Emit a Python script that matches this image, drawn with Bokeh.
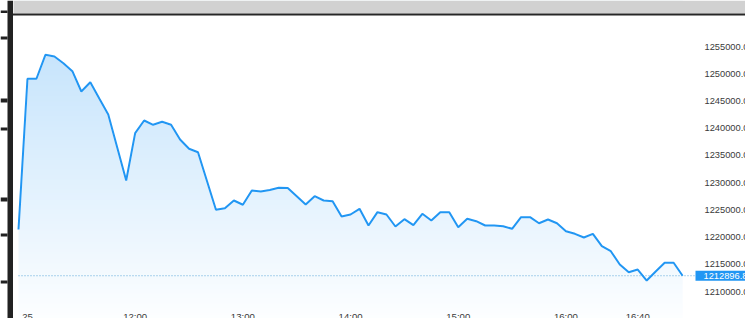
import numpy as np
from bokeh.plotting import figure
from bokeh.models import (Range1d, FixedTicker, PrintfTickFormatter, Label,
                          BoxAnnotation, GlobalInlineStyleSheet)
from bokeh.embed import file_html
from bokeh.resources import INLINE

# ---- data: 5-minute closes from 10:55 to 17:05 ----
start_minute = 655          # 10:55 as minutes after midnight
step_minutes = 5
prices = [1221400, 1249100, 1249100, 1253500, 1253200, 1251960, 1250490, 1246760, 1248470, 1245470,
          1242530, 1236470, 1230400, 1239100, 1241430, 1240640, 1241190, 1240640, 1237940, 1236230,
          1235600, 1230310, 1225020, 1225310, 1226730, 1225940, 1228560, 1228380, 1228660, 1229060,
          1229020, 1227520, 1225990, 1227520, 1226730, 1226600, 1223790, 1224150, 1225200, 1222130,
          1224580, 1224150, 1221950, 1223290, 1222190, 1224280, 1223050, 1224580, 1224580, 1221820,
          1223360, 1222920, 1222130, 1222130, 1222000, 1221520, 1223660, 1223660, 1222550, 1223230,
          1222550, 1221080, 1220600, 1219930, 1220600, 1218330, 1217410, 1214960, 1213550, 1214040,
          1212020, 1213680, 1215280, 1215280, 1212896.8]
times = [start_minute + step_minutes * i for i in range(len(prices))]

y_ticks = [1210000, 1215000, 1220000, 1225000, 1230000, 1235000, 1240000, 1245000, 1250000, 1255000]
x_tick_minutes = [660, 720, 780, 840, 900, 960, 1000]
x_tick_labels = ["25", "12:00", "13:00", "14:00", "15:00", "16:00", "16:40"]

BLUE = "#2196f3"
FONT = "Liberation Sans"
TXT = "#3a3a3a"

W, H = 760, 330
x_range = Range1d(644.97, 1068.4)
y_range = Range1d(1202832, 1263486)

p = figure(width=W, height=H, output_backend="svg", toolbar_location=None,
           x_range=x_range, y_range=y_range, y_axis_location="right",
           min_border_left=0, min_border_right=0, min_border_top=0, min_border_bottom=0)
p.stylesheets = [GlobalInlineStyleSheet(css="html, body { overflow: hidden; }")]
p.outline_line_color = None
p.grid.visible = False
p.background_fill_color = "white"
p.border_fill_color = "white"

# gradient fill under the line (image) + white mask above the line
N = 330
a0 = 0.30
alphas = a0 * np.arange(N) / (N - 1)          # row 0 = bottom
img = np.empty((N, 1), dtype=np.uint32)
view = img.view(dtype=np.uint8).reshape((N, 1, 4))
view[:, 0, 0] = np.round(255 - (255 - 33) * alphas).astype(np.uint8)
view[:, 0, 1] = np.round(255 - (255 - 150) * alphas).astype(np.uint8)
view[:, 0, 2] = np.round(255 - (255 - 243) * alphas).astype(np.uint8)
view[:, 0, 3] = 255
p.image_rgba(image=[img], x=times[0], y=y_range.start,
             dw=times[-1] - times[0], dh=y_range.end - y_range.start)
p.patch(x=times + [times[-1], times[0]], y=prices + [y_range.end, y_range.end],
        fill_color="white", fill_alpha=1, line_color="white", line_width=2)

# last-price dotted line
p.line([times[0], x_range.end], [prices[-1], prices[-1]], line_color="#4a9fd8",
       line_alpha=0.9, line_dash="1 2", line_width=1)

p.line(times, prices, line_color=BLUE, line_width=2)

# axes (labels drawn at the canvas edge, as on the price scale of the original)
ya = p.yaxis[0]
ya.ticker = FixedTicker(ticks=y_ticks)
ya.formatter = PrintfTickFormatter(format="%.1f")
ya.axis_line_color = None
ya.major_tick_line_color = None
ya.minor_tick_line_color = None
ya.major_tick_out = 0
ya.major_tick_in = 0
ya.major_label_standoff = -56
ya.major_label_text_font = FONT
ya.major_label_text_font_size = "9.3px"
ya.major_label_text_color = TXT

xa = p.xaxis[0]
xa.ticker = FixedTicker(ticks=x_tick_minutes)
xa.major_label_overrides = dict(zip(x_tick_minutes, x_tick_labels))
xa.axis_line_color = None
xa.major_tick_line_color = None
xa.minor_tick_line_color = None
xa.major_tick_out = 0
xa.major_tick_in = 0
xa.major_label_standoff = -20
xa.major_label_text_font = FONT
xa.major_label_text_font_size = "9.6px"
xa.major_label_text_color = TXT

# last-price tag on the price scale
p.add_layout(Label(x=695, x_units="canvas", y=prices[-1], y_units="data",
                   text=f"{prices[-1]:.1f}", text_color="white", text_font=FONT,
                   text_font_size="9.3px", text_align="left", text_baseline="middle",
                   background_fill_color=BLUE, background_fill_alpha=1,
                   padding=dict(left=8, right=60, top=2, bottom=2)))

# surrounding page frame pieces (screenshot chrome)
def box(l, r, t, b, c):
    p.add_layout(BoxAnnotation(left=l, right=r, top=t, bottom=b,
                               left_units="canvas", right_units="canvas",
                               top_units="canvas", bottom_units="canvas",
                               fill_color=c, fill_alpha=1, line_alpha=0))

box(13, W, 0, 13, "#d1d1d1")
box(12, W, 13, 15, "#262626")
box(7, 12.5, 0, H, "#222222")
for t, b in [(10, 12.5), (36, 39), (98, 102), (127, 130), (197, 201), (233, 236), (280, 283)]:
    box(0, 7, t, b, "#222222")

open("out.html", "w").write(file_html(p, INLINE))
